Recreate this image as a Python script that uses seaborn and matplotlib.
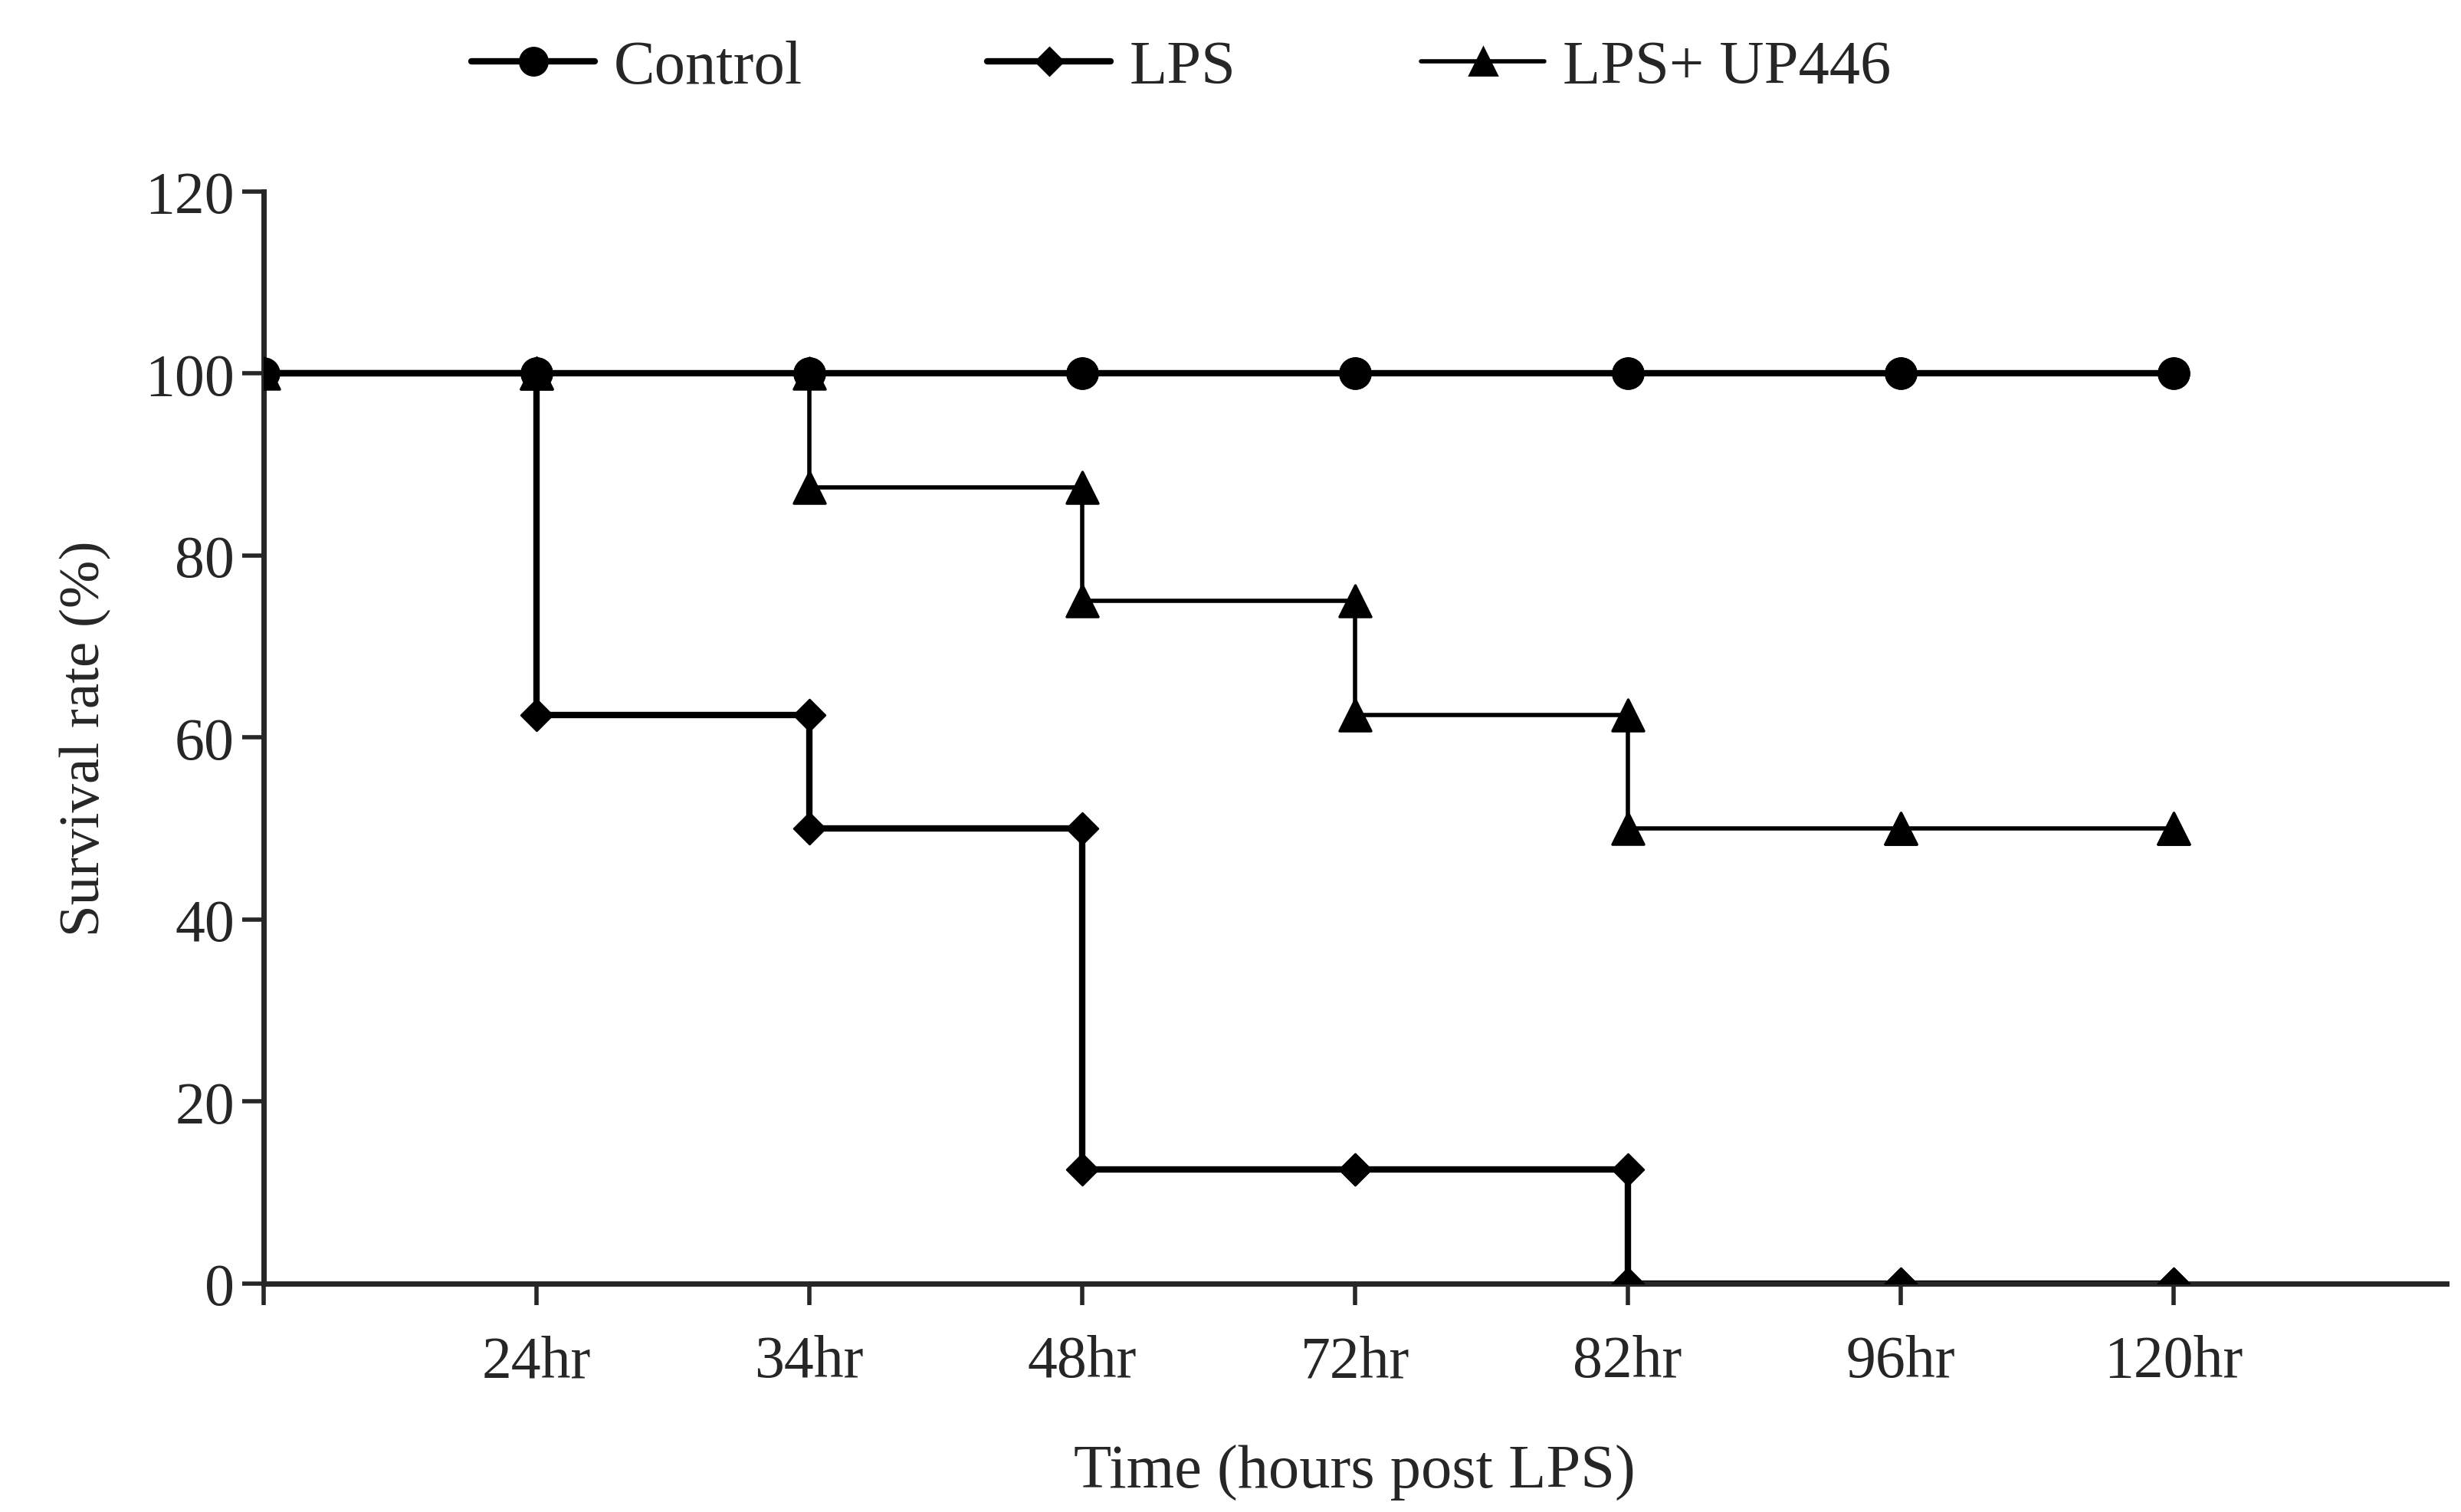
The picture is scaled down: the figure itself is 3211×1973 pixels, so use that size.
import numpy as np
import pandas as pd
import seaborn as sns
import matplotlib.pyplot as plt
from matplotlib.lines import Line2D

# time points (0 = start) and survival values
tick_labels = ["", "24hr", "34hr", "48hr", "72hr", "82hr", "96hr", "120hr"]
control = [100, 100, 100, 100, 100, 100, 100, 100]
lps = [100, 62.5, 50, 12.5, 12.5, 0, 0, 0]
lps_up446 = [100, 100, 87.5, 75, 62.5, 50, 50, 50]

sns.set_style("ticks")
plt.rcParams['font.family'] = ['Liberation Serif', 'DejaVu Serif']

fig = plt.figure(figsize=(16.055, 9.87), dpi=200)
ax = fig.add_axes([0.107, 0.151, 0.887, 0.722])

x = np.arange(len(tick_labels))


def corners(vals):
    xs, ys = [x[0]], [vals[0]]
    for i in range(1, len(vals)):
        xs += [x[i], x[i]]
        ys += [vals[i - 1], vals[i]]
    return pd.DataFrame({"x": xs, "y": ys})


series = [(control, "o", 3.0, 200), (lps, "D", 3.0, 110), (lps_up446, "^", 2.0, 220)]
for vals, mk, lw, ms in series:
    df = pd.DataFrame({"x": x, "y": vals})
    sns.lineplot(data=df, x="x", y="y", ax=ax, color="black", lw=lw,
                 drawstyle="steps-post", zorder=2)
    sns.scatterplot(data=corners(vals), x="x", y="y", ax=ax, marker=mk,
                    s=ms, color="black", edgecolor="black", zorder=3)

ax.set_xlim(0, 8)
ax.set_ylim(0, 120)
ax.set_yticks(range(0, 121, 20))
ax.set_xticks(x)
ax.set_xticklabels(tick_labels)
ax.tick_params(axis="both", labelsize=28, width=2, length=10, direction="out")
ax.tick_params(axis="x", pad=14)
for s in ["top", "right"]:
    ax.spines[s].set_visible(False)
for s in ["left", "bottom"]:
    ax.spines[s].set_linewidth(2.5)
ax.set_xlabel("Time (hours post LPS)", fontsize=29, labelpad=26)
ax.set_ylabel("Survival rate (%)", fontsize=27, labelpad=16)

handles = [Line2D([], [], color="black", lw=3, marker="o", markersize=13),
           Line2D([], [], color="black", lw=3, marker="D", markersize=9),
           Line2D([], [], color="black", lw=2, marker="^", markersize=13)]
fig.legend(handles, ["Control", "LPS", "LPS+ UP446"], loc="upper center",
           bbox_to_anchor=(0.48, 1.01), ncol=3, frameon=False, fontsize=29,
           handlelength=2.0, handletextpad=0.3, columnspacing=3)

fig.savefig("out.png", dpi=200)
